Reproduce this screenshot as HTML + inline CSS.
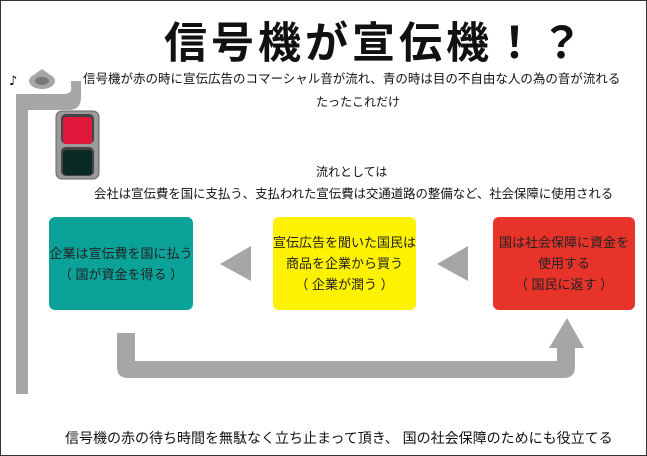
<!DOCTYPE html>
<html><head><meta charset="utf-8"><style>
body{margin:0;background:#fff;}
#c{position:relative;width:645px;height:454px;border:1px solid #333;overflow:hidden;font-family:"Liberation Sans","Noto Sans CJK JP",sans-serif;color:#111;}
.t{position:absolute;white-space:nowrap;}
.box{position:absolute;border-radius:6px;display:flex;flex-direction:column;justify-content:center;align-items:center;font-size:13px;line-height:21px;color:#222;}
</style></head><body><div id="c">
<div class="t" style="left:163px;top:8px;font-size:43px;font-weight:bold;letter-spacing:4px;">信号機が宣伝機！？</div>
<div class="t" style="left:82px;top:67px;font-size:12.5px;">信号機が赤の時に宣伝広告のコマーシャル音が流れ、青の時は目の不自由な人の為の音が流れる</div>
<div class="t" style="left:315px;top:92px;font-size:12px;">たったこれだけ</div>
<div class="t" style="left:315px;top:162px;font-size:12px;">流れとしては</div>
<div class="t" style="left:93px;top:183px;font-size:12.4px;">会社は宣伝費を国に支払う、支払われた宣伝費は交通道路の整備など、社会保障に使用される</div>
<svg style="position:absolute;left:0;top:0" width="647" height="456">
<rect x="15" y="93" width="12" height="300" fill="#a6a6a6"/>
<path d="M15 93 H62 Q72 93 70 85 L70 80 L80 80 L80 96 Q80 109 68 109 H15 Z" fill="#a6a6a6"/>
<ellipse cx="41" cy="80" rx="13" ry="8" fill="#a6a6a6"/>
<ellipse cx="41" cy="80" rx="7" ry="4" fill="#777"/>
<path d="M34 73 L41 68 L48 73Z" fill="#a6a6a6"/>
<text x="8" y="84" font-size="13" font-family="DejaVu Sans">♪</text>
<rect x="55" y="110" width="43" height="68" rx="6" fill="#9a9a9a" stroke="#666" stroke-width="1"/>
<rect x="60" y="113" width="33" height="30" rx="5" fill="#444"/>
<rect x="62" y="116" width="29" height="27" rx="3" fill="#e0163a"/>
<rect x="60" y="146" width="33" height="29" rx="5" fill="#444"/>
<rect x="62" y="149" width="29" height="25" rx="3" fill="#0b2a23"/>
<polygon points="250,245 250,280 219,263" fill="#a6a6a6"/>
<polygon points="467,245 467,280 436,263" fill="#a6a6a6"/>
<path d="M116 332 V366 Q116 377 127 377 H562 Q574 377 574 366 V347 H583 L566 317 L548 347 H556 V360 H134 V332 Z" fill="#a6a6a6"/>
</svg>
<div class="box" style="left:48px;top:216px;width:144px;height:93px;background:#0ba399;"><div>企業は宣伝費を国に払う</div><div>（ 国が資金を得る ）</div></div>
<div class="box" style="left:272px;top:216px;width:143px;height:93px;background:#fff200;"><div>宣伝広告を聞いた国民は</div><div>商品を企業から買う</div><div>（ 企業が潤う ）</div></div>
<div class="box" style="left:492px;top:216px;width:142px;height:93px;background:#e8332a;"><div>国は社会保障に資金を</div><div>使用する</div><div>（ 国民に返す ）</div></div>
<div class="t" style="left:64px;top:427px;font-size:14px;">信号機の赤の待ち時間を無駄なく立ち止まって頂き、 国の社会保障のためにも役立てる</div>
</div></body></html>
